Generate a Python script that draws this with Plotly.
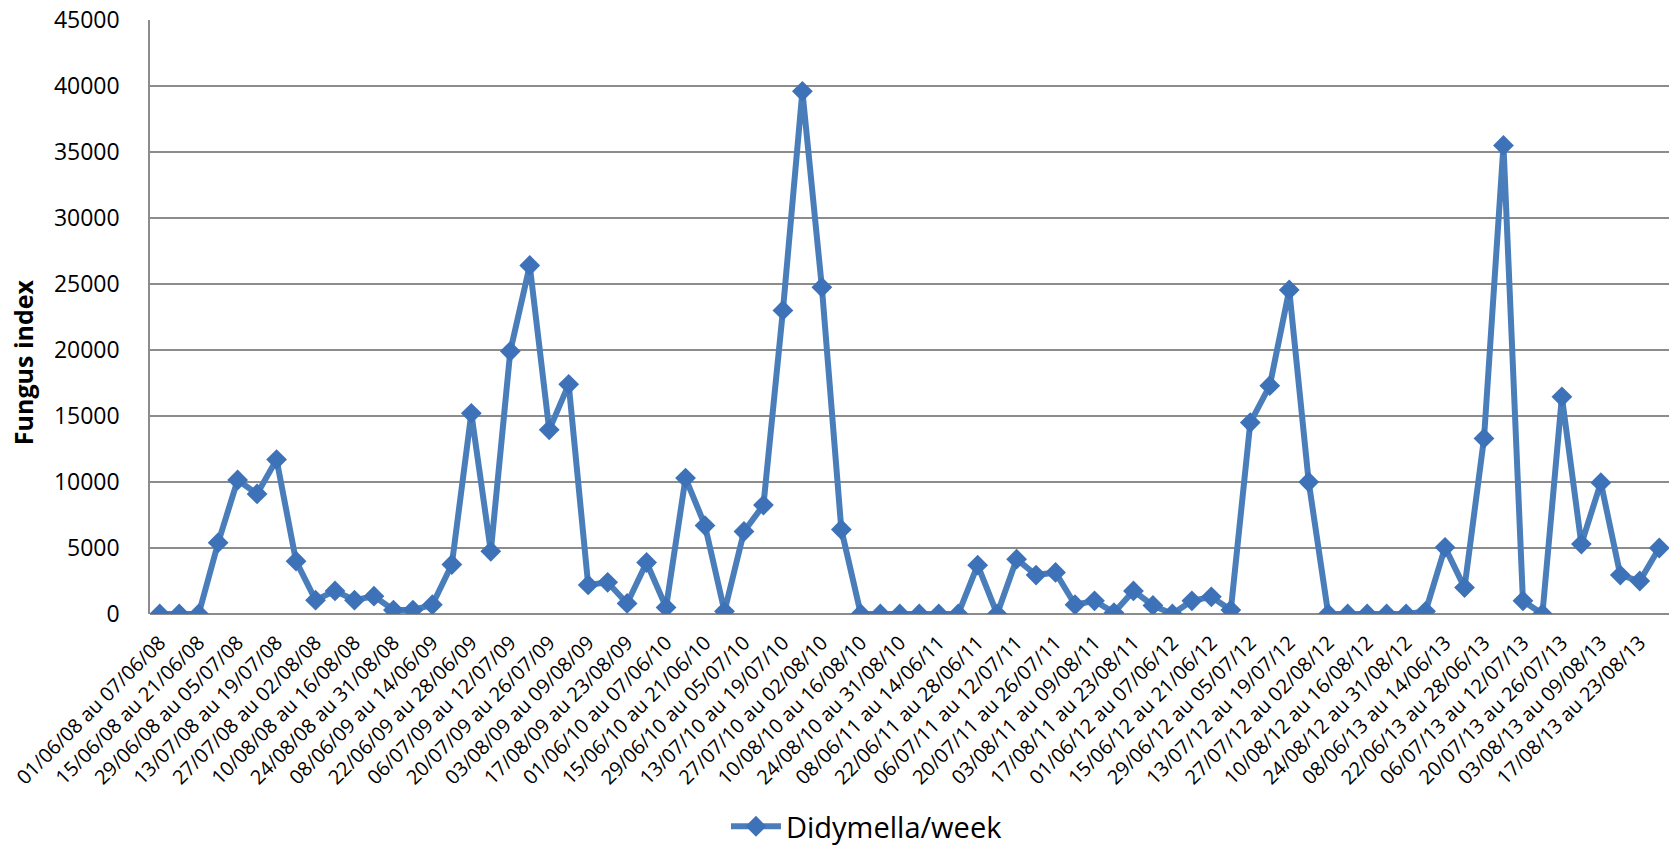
import plotly.graph_objects as go

# Weekly sampling periods, June to August, 2008-2013
weeks = [
    "01/06/08 au 07/06/08", "08/06/08 au 14/06/08", "15/06/08 au 21/06/08", "22/06/08 au 28/06/08",
    "29/06/08 au 05/07/08", "06/07/08 au 12/07/08", "13/07/08 au 19/07/08", "20/07/08 au 26/07/08",
    "27/07/08 au 02/08/08", "03/08/08 au 09/08/08", "10/08/08 au 16/08/08", "17/08/08 au 23/08/08",
    "24/08/08 au 31/08/08",
    "01/06/09 au 07/06/09", "08/06/09 au 14/06/09", "15/06/09 au 21/06/09", "22/06/09 au 28/06/09",
    "29/06/09 au 05/07/09", "06/07/09 au 12/07/09", "13/07/09 au 19/07/09", "20/07/09 au 26/07/09",
    "27/07/09 au 02/08/09", "03/08/09 au 09/08/09", "10/08/09 au 16/08/09", "17/08/09 au 23/08/09",
    "24/08/09 au 31/08/09",
    "01/06/10 au 07/06/10", "08/06/10 au 14/06/10", "15/06/10 au 21/06/10", "22/06/10 au 28/06/10",
    "29/06/10 au 05/07/10", "06/07/10 au 12/07/10", "13/07/10 au 19/07/10", "20/07/10 au 26/07/10",
    "27/07/10 au 02/08/10", "03/08/10 au 09/08/10", "10/08/10 au 16/08/10", "17/08/10 au 23/08/10",
    "24/08/10 au 31/08/10",
    "01/06/11 au 07/06/11", "08/06/11 au 14/06/11", "15/06/11 au 21/06/11", "22/06/11 au 28/06/11",
    "29/06/11 au 05/07/11", "06/07/11 au 12/07/11", "13/07/11 au 19/07/11", "20/07/11 au 26/07/11",
    "27/07/11 au 02/08/11", "03/08/11 au 09/08/11", "10/08/11 au 16/08/11", "17/08/11 au 23/08/11",
    "24/08/11 au 31/08/11",
    "01/06/12 au 07/06/12", "08/06/12 au 14/06/12", "15/06/12 au 21/06/12", "22/06/12 au 28/06/12",
    "29/06/12 au 05/07/12", "06/07/12 au 12/07/12", "13/07/12 au 19/07/12", "20/07/12 au 26/07/12",
    "27/07/12 au 02/08/12", "03/08/12 au 09/08/12", "10/08/12 au 16/08/12", "17/08/12 au 23/08/12",
    "24/08/12 au 31/08/12",
    "01/06/13 au 07/06/13", "08/06/13 au 14/06/13", "15/06/13 au 21/06/13", "22/06/13 au 28/06/13",
    "29/06/13 au 05/07/13", "06/07/13 au 12/07/13", "13/07/13 au 19/07/13", "20/07/13 au 26/07/13",
    "27/07/13 au 02/08/13", "03/08/13 au 09/08/13", "10/08/13 au 16/08/13", "17/08/13 au 23/08/13",
    "24/08/13 au 31/08/13",
]

didymella = [
    0, 0, 0, 5400, 10150, 9100, 11700, 4000, 1050, 1750, 1050, 1350, 300,
    300, 700, 3750, 15200, 4750, 19900, 26400, 13950, 17400, 2200, 2400, 800, 3900,
    500, 10300, 6700, 200, 6250, 8250, 23000, 39600, 24750, 6400, 0, 0, 0,
    0, 0, 0, 3700, 0, 4150, 2950, 3150, 700, 1000, 100, 1750, 650, 0,
    1000, 1300, 300, 14500, 17300, 24550, 10000, 0, 0, 0, 0, 0,
    200, 5050, 2000, 13300, 35500, 1000, 0, 16450, 5300, 9950, 2950, 2500, 5000,
]

# Every other week is labelled on the category axis
tick_weeks = weeks[::2]

y_title = "Fungus index"

blue_line = "#4a7ebb"
blue_marker = "#3d72b8"
grid_gray = "#8c8c8c"
font_family = "Open Sans, sans-serif"

fig = go.Figure()
fig.add_trace(go.Scatter(
    x=weeks,
    y=didymella,
    mode="lines+markers",
    name="Didymella/week",
    line=dict(color=blue_line, width=6),
    marker=dict(symbol="diamond", size=16, color=blue_marker),
))

fig.update_layout(
    width=1669,
    height=845,
    margin=dict(l=150, r=0, t=20, b=231, autoexpand=False),
    plot_bgcolor="white",
    paper_bgcolor="white",
    font=dict(family=font_family, color="black"),
    showlegend=True,
    legend=dict(
        orientation="h",
        x=0.472, xanchor="center",
        yref="container",
        y=0.022, yanchor="middle",
        itemwidth=50,
        font=dict(size=29, family=font_family, color="black"),
    ),
)

# Vertical y-axis title, set a little below the middle of the plot area
fig.add_annotation(
    text=f"<b>{y_title}</b>",
    xref="paper", yref="paper",
    x=-0.0836, y=0.424,
    xanchor="center", yanchor="middle",
    textangle=-90,
    showarrow=False,
    font=dict(size=25, family=font_family, color="black"),
)

fig.update_xaxes(
    type="category",
    range=[-0.5, len(weeks) - 0.5],
    tickmode="array",
    tickvals=tick_weeks,
    ticktext=tick_weeks,
    tickangle=-45,
    tickfont=dict(size=20, family=font_family, color="black"),
    ticklabelstandoff=12,
    automargin=False,
    showgrid=False,
    showline=False,
    zeroline=False,
)

fig.update_yaxes(
    range=[0, 45000],
    dtick=5000,
    tickformat="d",
    tickfont=dict(size=23, family=font_family, color="black"),
    ticklabelstandoff=24,
    automargin=False,
    showgrid=True,
    gridcolor=grid_gray,
    gridwidth=1.5,
    showline=True,
    linecolor=grid_gray,
    linewidth=1.5,
    zeroline=True,
    zerolinecolor=grid_gray,
    zerolinewidth=1.5,
)

fig.write_html("out.html")
